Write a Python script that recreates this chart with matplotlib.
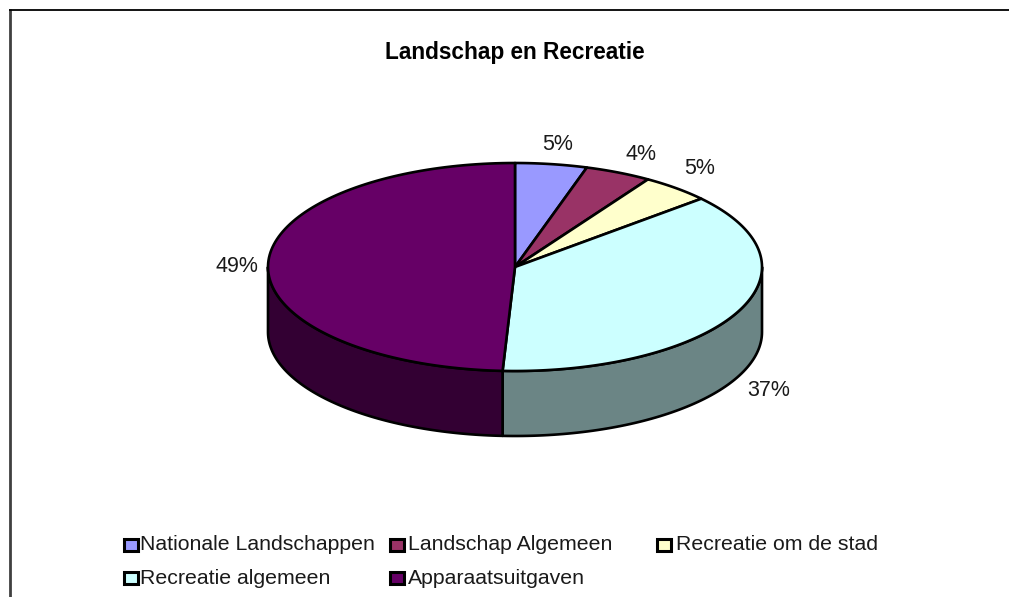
import matplotlib
matplotlib.use("Agg")
import matplotlib.pyplot as plt
import numpy as np

title = "Landschap en Recreatie"
labels = ["Nationale Landschappen", "Landschap Algemeen", "Recreatie om de stad",
          "Recreatie algemeen", "Apparaatsuitgaven"]
values = [4.7, 4.35, 4.55, 37.2, 49.2]
top_colors = ["#9999FF", "#993366", "#FFFFCC", "#CCFFFF", "#660066"]
side_colors = ["#6B6BB3", "#6B2447", "#B3B38F", "#6B8585", "#330033"]

plt.rcParams["font.family"] = ["Liberation Sans", "DejaVu Sans"]

fig = plt.figure(figsize=(10.09, 5.97), dpi=100)
ax = fig.add_axes([0, 0, 1, 1])
ax.set_xlim(0, 1009)
ax.set_ylim(597, 0)
ax.axis("off")

cx, cy, rx, ry, depth = 515, 267, 247, 104, 65


def ellipse(a):
    a = np.radians(a)
    return cx + rx * np.sin(a), cy - ry * np.cos(a)


# rand van de grafiek
ax.plot([10, 10], [9, 597], color="#404040", lw=2.0, solid_capstyle="butt")
ax.plot([9, 1009], [9.5, 9.5], color="black", lw=1.3, solid_capstyle="butt")

ax.text(515, 52, title, ha="center", va="center", fontsize=16.3, fontweight="bold")

edges = np.concatenate([[0], np.cumsum(values)]) * 3.6

# zijkant: alleen het zichtbare deel (90 t/m 270 graden)
for i in range(len(values)):
    a0, a1 = max(edges[i], 90), min(edges[i + 1], 270)
    if a1 <= a0:
        continue
    t = np.linspace(a0, a1, 80)
    x, y = ellipse(t)
    ax.fill(np.r_[x, x[::-1]], np.r_[y, y[::-1] + depth], facecolor=side_colors[i],
            edgecolor="black", lw=1.9, joinstyle="round", zorder=2)

# bovenkant
for i in range(len(values)):
    t = np.linspace(edges[i], edges[i + 1], 120)
    x, y = ellipse(t)
    ax.fill(np.r_[cx, x], np.r_[cy, y], facecolor=top_colors[i],
            edgecolor="black", lw=1.9, joinstyle="round", zorder=3)

# percentages
label_pos = [(558, 144), (641, 154), (700, 169), (769, 390), (237, 266)]
for v, (px, py) in zip(values, label_pos):
    ax.text(px, py, f"{v:.0f}%", ha="center", va="center", fontsize=15.5, color="#1a1a1a")

# legenda
box_pos = [(123.5, 544.5), (389.5, 544.5), (656.5, 544.5), (123.5, 577.5), (389.5, 577.5)]
text_x = [140.5, 408, 675.5, 140.5, 408]
for i, (px, py) in enumerate(box_pos):
    ax.add_patch(plt.Rectangle((px, py - 6), 14, 12.5, facecolor=top_colors[i],
                               edgecolor="black", lw=2.2))
    ax.text(text_x[i], py + 0.5, labels[i], ha="left", va="center", fontsize=15.3, color="#1a1a1a")

fig.savefig("out.png", dpi=100)
